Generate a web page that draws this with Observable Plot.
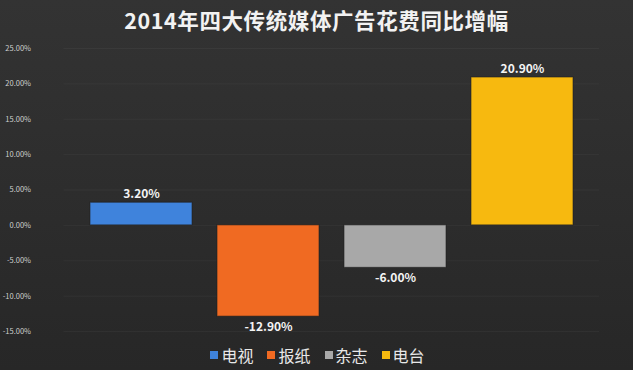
<!DOCTYPE html>
<html>
<head>
<meta charset="utf-8">
<script src="https://cdn.jsdelivr.net/npm/d3@7"></script>
<script src="https://cdn.jsdelivr.net/npm/@observablehq/plot@0.6"></script>
<style>
  html, body { margin: 0; padding: 0; }
  body { width: 633px; height: 370px; overflow: hidden;
    background: linear-gradient(180deg, #333333 0%, #2c2c2c 60%, #272727 100%);
    font-family: "Noto Sans CJK SC", "Noto Sans", sans-serif; }
  #title { height: 38px; line-height: 40px; text-align: center; color: #f2f2f2;
    font-size: 21.5px; font-weight: bold; letter-spacing: 0.6px; }
  #legend { height: 30px; display: flex; justify-content: center; align-items: center;
    gap: 14px; color: #e8e8e8; font-size: 16px; padding-left: 2px; }
  #legend .item { display: flex; align-items: center; gap: 3px; }
  #legend .sw { width: 8px; height: 8px; display: inline-block; }
</style>
</head>
<body>
<div id="title">2014年四大传统媒体广告花费同比增幅</div>
<div id="chart"></div>
<div id="legend"></div>
<script>
const categories = ["电视", "报纸", "杂志", "电台"];
const values = [3.2, -12.9, -6.0, 20.9];
const colors = ["#3f83dc", "#f06a22", "#a8a8a8", "#f7b90f"];
const yTicks = [-15, -10, -5, 0, 5, 10, 15, 20, 25];

const data = categories.map((c, i) => ({category: c, value: values[i]}));
const fmt = v => v.toFixed(2) + "%";

const chart = Plot.plot({
  width: 633,
  height: 302,
  marginTop: 10,
  marginBottom: 9,
  marginLeft: 63.5,
  marginRight: 34,
  style: {background: "transparent", fontFamily: "'Noto Sans CJK SC', sans-serif"},
  x: {domain: categories, padding: 0.2, axis: null},
  y: {domain: [-15, 25], ticks: yTicks, tickFormat: fmt},
  color: {domain: categories, range: colors},
  marks: [
    Plot.gridY(yTicks, {stroke: "#ffffff", strokeOpacity: 0.04}),
    Plot.axisY(yTicks, {tickSize: 0, tickPadding: 33, tickFormat: fmt, fill: "#d0d0d0", fontSize: 7.5, label: null}),
    Plot.barY(data, {x: "category", y: "value", fill: "category", stroke: "#1e1e1e", strokeOpacity: 0.6, strokeWidth: 1}),
    Plot.text(data.filter(d => d.value >= 0), {x: "category", y: "value", text: d => fmt(d.value), lineAnchor: "bottom", dy: -5, fill: "#f4f4f4", fontSize: 12, fontWeight: "bold"}),
    Plot.text(data.filter(d => d.value < 0), {x: "category", y: "value", text: d => fmt(d.value), lineAnchor: "top", dy: 6, fill: "#f4f4f4", fontSize: 12, fontWeight: "bold"})
  ]
});
document.getElementById("chart").appendChild(chart);

const legend = document.getElementById("legend");
categories.forEach((c, i) => {
  const item = document.createElement("span");
  item.className = "item";
  const sw = document.createElement("span");
  sw.className = "sw";
  sw.style.background = colors[i];
  const t = document.createElement("span");
  t.textContent = c;
  item.appendChild(sw);
  item.appendChild(t);
  legend.appendChild(item);
});
</script>
</body>
</html>
